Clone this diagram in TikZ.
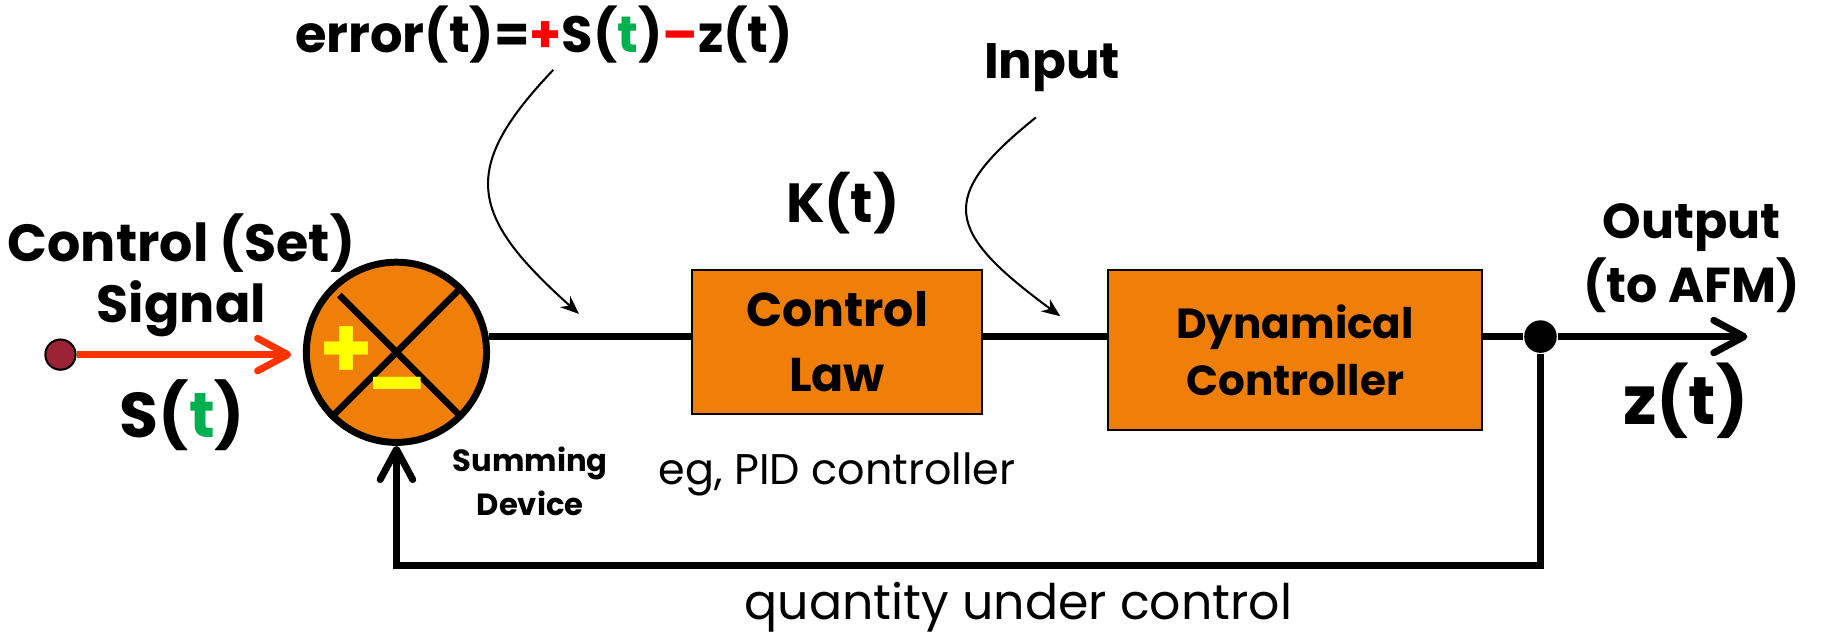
\documentclass[tikz,border=0pt]{standalone}
\usepackage{fontspec}
\setmainfont{Poppins}
\usetikzlibrary{arrows.meta,positioning}

\definecolor{boxorange}{RGB}{240,127,10}
\definecolor{setred}{RGB}{255,51,0}
\definecolor{srcred}{RGB}{155,35,53}
\definecolor{tgreen}{RGB}{0,176,80}
\definecolor{signred}{RGB}{255,0,0}
\definecolor{signyellow}{RGB}{255,255,0}

\begin{document}
\begin{tikzpicture}[x=0.1mm,y=-0.1mm,
    >={Straight Barb[length=2.6mm,width=2.8mm,round]},
    block/.style={draw,line width=0.5pt,fill=boxorange,align=center,inner sep=0pt,
        font=\bfseries\fontsize{11.6}{16}\selectfont},
    sumnode/.style={circle,draw,line width=1.7pt,fill=boxorange,minimum size=15.5mm,inner sep=0pt},
    cross/.style={line width=1.6pt},
    sign/.style={text=signyellow,font=\bfseries\fontsize{21}{21}\selectfont,inner sep=0pt},
    wire/.style={line width=1.7pt},
    setwire/.style={line width=1.7pt,draw=setred,->,shorten >=1mm},
    junc/.style={circle,fill=black,minimum size=2.8mm,inner sep=0pt},
    srcdot/.style={circle,draw,line width=0.5pt,fill=srcred,minimum size=2.6mm,inner sep=0pt},
    note/.style={line width=0.5pt,-{Stealth[length=1.6mm,width=1.3mm]}},
    lbl/.style={font=\bfseries\fontsize{12.8}{15}\selectfont,align=center,inner sep=0pt},
    small/.style={font=\bfseries\fontsize{7.5}{10.8}\selectfont,align=center,inner sep=0pt},
    plain/.style={inner sep=0pt}]
    \useasboundingbox (0,0) rectangle (1568,550);

    % summing device and blocks
    \node[sumnode] (sum) at (341,303) {};
    \draw[cross,shorten <=1.1mm,shorten >=0.5mm] (sum.north west) -- (sum.south east);
    \draw[cross] (sum.north east) -- (sum.south west);
    \node[sign] (plus) at (298,303) {+};
    \node[sign] (minus) at (342,340) {--};
    \node[block,minimum width=24.9mm,minimum height=12.4mm] (law) at (720,294) {Control\\Law};
    \node[block,minimum width=32.2mm,minimum height=13.8mm,
          font=\bfseries\fontsize{10.3}{14}\selectfont] (dyn) at (1114,301) {Dynamical\\Controller};
    \node[junc] (junc) at (1325,289.5) {};
    \node[srcdot] (src) at (52,305) {};
    \coordinate (zout) at (1503,289.5);

    % signal path
    \draw[setwire] (src.east) -- (src.east -| sum.west);
    \draw[wire] (sum.10) -- (sum.10 -| law.west);
    \draw[wire] (law.east |- sum.10) -- (dyn.west |- sum.10);
    \draw[wire] (dyn.east |- junc) -- (junc);
    \draw[wire,->] (junc) -- (zout);
    \draw[wire,->] (junc) -- ++(0,197) -| (sum.south);

    % labels
    \node[lbl] (setlbl) at (156,237) {Control (Set)\\Signal};
    \node[lbl,font=\bfseries\fontsize{15.5}{15.5}\selectfont] (s) at (157,357) {S(\textcolor{tgreen}{t})};
    \node[lbl,font=\bfseries\fontsize{12.5}{15}\selectfont] (err) at (468,30) {error(t)=\textcolor{signred}{+}S(\textcolor{tgreen}{t})\textcolor{signred}{--}z(t)};
    \node[lbl,font=\bfseries\fontsize{12.2}{15}\selectfont] (inp) at (905,58) {Input};
    \node[lbl,font=\bfseries\fontsize{13.5}{15}\selectfont] (k) at (725,175) {K(t)};
    \node[lbl,font=\bfseries\fontsize{12}{15.5}\selectfont] (out) at (1455,222) {Output\\(to AFM)};
    \node[lbl,font=\bfseries\fontsize{16.5}{16.5}\selectfont] (z) at (1450,345) {z(t)};
    \node[small] (sumlbl) at (456,414) {Summing\\Device};
    \node[plain,font=\fontsize{10.5}{12}\selectfont] (pid) at (720,408) {eg, PID controller};
    \node[plain,font=\fontsize{12}{14}\selectfont] (qty) at (876,522) {quantity under control};

    % pointers
    \coordinate (errfrom) at (476,60);
    \coordinate (errto) at (498,270);
    \coordinate (infrom) at (891,101);
    \coordinate (into) at (912,272);
    \draw[note] (errfrom) .. controls (395,145) and (403,185) .. (errto);
    \draw[note] (infrom) .. controls (805,170) and (813,199) .. (into);
\end{tikzpicture}
\end{document}
